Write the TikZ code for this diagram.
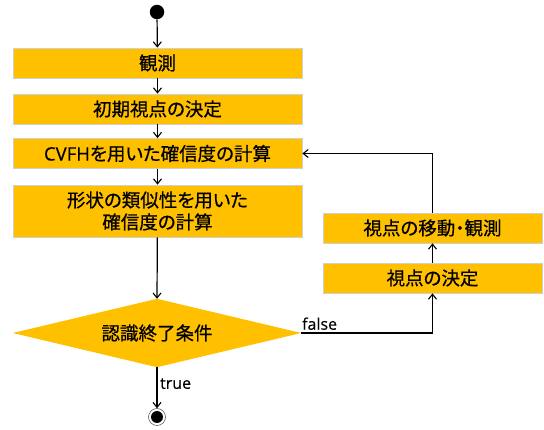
\documentclass[tikz,border=0pt]{standalone}
\usepackage{fontspec}
\setmainfont[RawFeature=+palt, FakeBold=0.6]{Noto Sans CJK JP}
\newfontfamily\lat[FakeBold=0.4]{Open Sans}
\usetikzlibrary{arrows.meta}
\definecolor{gold}{HTML}{FFC000}
\definecolor{boxborder}{HTML}{D0D0D0}
\begin{document}
\begin{tikzpicture}[x=1pt,y=-1pt,
  font=\fontsize{18.5}{22}\selectfont,
  box/.style={draw=boxborder, line width=0.7pt, fill=gold, minimum width=289pt, minimum height=30pt, inner sep=0pt, align=center},
  rbox/.style={box, minimum width=219pt},
  cond/.style={minimum width=288pt, minimum height=68pt, inner sep=0pt},
  arr/.style={line width=1.2pt, -{Straight Barb[length=5pt,width=8pt,line width=1.1pt]}},
  lbl/.style={font=\lat\fontsize{16}{19}\selectfont, inner sep=2.5pt}
]
\useasboundingbox (0,0) rectangle (544,430);
\node[circle, fill=black, minimum size=14.5pt, inner sep=0pt] (start) at (157,12) {};
\node[box] (b1) at (157.5,63) {観測};
\node[box] (b2) at (157.5,109) {初期視点の決定};
\node[box] (b3) at (157.5,153.5) {{\lat CVFH}を用いた確信度の計算};
\node[box, minimum height=52pt] (b4) at (157.5,211) {形状の類似性を用いた\\確信度の計算};
\node[cond] (dia) at (157,333) {};
\fill[gold] (dia.north) -- (dia.east) -- (dia.south) -- (dia.west) -- cycle;
\node at (dia) {認識終了条件};
\node[circle, draw=black!70, line width=0.5pt, minimum size=17pt, inner sep=0pt] (end) at (157,417) {};
\node[circle, fill=black, minimum size=12pt, inner sep=0pt] at (end) {};
\node[rbox] (r1) at (432.5,278) {視点の決定};
\node[rbox] (r2) at (432.5,228) {視点の移動・観測};
\draw[arr] (start) -- (b1);
\draw[arr] (b1) -- (b2);
\draw[arr] (b2) -- (b3);
\draw[arr] (b3) -- (b4);
\draw[arr] (b4) -- (dia.north);
\draw[arr] (dia.south) -- node[lbl, pos=0.4, right] {true} (end);
\draw[arr] (dia.east) -| node[lbl, pos=0.07, above] {false} (r1.south);
\draw[arr] (r1) -- (r2);
\draw[arr] (r2.north) |- (b3.east);
\end{tikzpicture}
\end{document}
